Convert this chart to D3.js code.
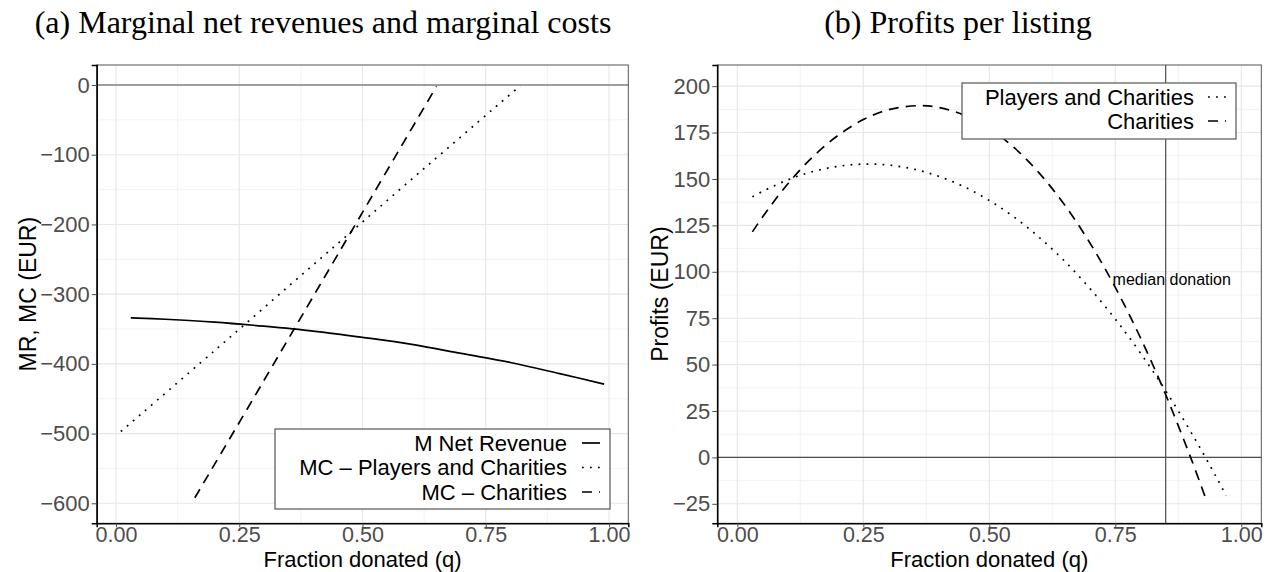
<!DOCTYPE html>
<html><head><meta charset="utf-8">
<script src="https://cdn.jsdelivr.net/npm/d3@7"></script>
<style>body{margin:0;background:#fff}svg{display:block}</style>
</head><body>
<svg id="c" width="1267" height="572"></svg>
<script>
// ---------- data ----------
const titleA = "(a) Marginal net revenues and marginal costs";
const titleB = "(b) Profits per listing";
const xTickValues = [0, 0.25, 0.5, 0.75, 1.0];
const yTicksA = [0, -100, -200, -300, -400, -500, -600];
const yTicksB = [200, 175, 150, 125, 100, 75, 50, 25, 0, -25];

// Panel (a)
const qMR = [0.03, 0.10, 0.20, 0.30, 0.40, 0.50, 0.60, 0.70, 0.80, 0.90, 0.99];
const mrNet = [-334, -336, -340, -346, -353, -362, -372, -385, -398, -414, -429];
const qMCPC = [0.01, 0.20, 0.40, 0.60, 0.82];
const mcPlayersCharities = [-497, -381, -258, -135, -1];
const qMCC = [0.16, 0.30, 0.45, 0.65];
const mcCharities = [-592, -424, -243, -2];
const legendA = ["M Net Revenue", "MC \u2013 Players and Charities", "MC \u2013 Charities"];

// Panel (b)
const qPC = [0.03,0.05,0.10,0.15,0.20,0.25,0.30,0.35,0.40,0.45,0.50,0.55,0.60,0.65,0.70,0.75,0.80,0.85,0.90,0.95,0.97];
const profitPC = [140.4,143.3,149.5,154.0,156.8,158.0,157.5,155.3,151.4,145.8,138.4,129.3,118.3,105.6,90.9,74.5,56.2,35.9,13.7,-10.4,-20.6];
const qC = [0.03,0.05,0.10,0.15,0.20,0.25,0.30,0.36,0.40,0.45,0.50,0.55,0.60,0.65,0.70,0.75,0.80,0.85,0.90,0.93];
const profitC = [121.5,129.5,147.3,162.0,173.5,182.0,187.3,189.5,188.5,184.4,177.2,166.7,152.9,135.8,115.4,91.6,64.4,33.8,-0.4,-22.5];
const legendB = ["Players and Charities", "Charities"];
const medianDonation = 0.85;
const medianLabel = "median donation";
const medianLabelPos = [0.862, 96];

// ---------- drawing ----------
const svg = d3.select("#c");
const SANS = "'Liberation Sans', Arial, Helvetica, sans-serif";
const styles = {
  solid: null,
  dotted: "1.8,6.2",
  dashed: "10,7"
};

function fmtY(d){ return d < 0 ? "\u2212" + Math.abs(d) : String(d); }

function drawPanel(o) {
  const g = svg.append("g");
  const x = d3.scaleLinear().domain(o.xDomain).range([o.left, o.right]);
  const y = d3.scaleLinear().domain(o.yDomain).range([o.bottom, o.top]);

  // grid (minor then major)
  const xMinor = [0.125, 0.375, 0.625, 0.875];
  const yStep = o.yTicks[0] - o.yTicks[1];
  const yMinor = o.yTicks.map(d => d - yStep / 2).concat([o.yTicks[0] + yStep/2])
      .filter(d => d > o.yDomain[0] && d < o.yDomain[1]);
  g.selectAll(".gxm").data(xMinor).join("line")
    .attr("x1", d => x(d)).attr("x2", d => x(d)).attr("y1", o.top).attr("y2", o.bottom)
    .attr("stroke", "#F0F0F0").attr("stroke-width", 0.8);
  g.selectAll(".gym").data(yMinor).join("line")
    .attr("y1", d => y(d)).attr("y2", d => y(d)).attr("x1", o.left).attr("x2", o.right)
    .attr("stroke", "#F0F0F0").attr("stroke-width", 0.8);
  g.selectAll(".gx").data(xTickValues).join("line")
    .attr("x1", d => x(d)).attr("x2", d => x(d)).attr("y1", o.top).attr("y2", o.bottom)
    .attr("stroke", "#E6E6E6").attr("stroke-width", 1.1);
  g.selectAll(".gy").data(o.yTicks).join("line")
    .attr("y1", d => y(d)).attr("y2", d => y(d)).attr("x1", o.left).attr("x2", o.right)
    .attr("stroke", "#E6E6E6").attr("stroke-width", 1.1);

  // reference lines
  g.append("line").attr("x1", o.left).attr("x2", o.right).attr("y1", y(0)).attr("y2", y(0))
    .attr("stroke", "#4D4D4D").attr("stroke-width", 1.2);
  if (o.vline != null) {
    g.append("line").attr("x1", x(o.vline)).attr("x2", x(o.vline)).attr("y1", o.top).attr("y2", o.bottom)
      .attr("stroke", "#4D4D4D").attr("stroke-width", 1.2);
  }

  // series
  const line = d3.line().x(d => x(d[0])).y(d => y(d[1])).curve(d3.curveCatmullRom.alpha(0.5));
  o.series.forEach(s => {
    g.append("path").datum(d3.zip(s.q, s.v)).attr("d", line)
      .attr("fill", "none").attr("stroke", "#000").attr("stroke-width", 1.7)
      .attr("stroke-dasharray", styles[s.type]);
  });

  if (o.annot) {
    g.append("text").attr("x", x(o.annot.pos[0])).attr("y", y(o.annot.pos[1]))
      .attr("text-anchor", "middle").attr("dominant-baseline", "central")
      .attr("font-family", SANS).attr("font-size", 16).attr("fill", "#000").text(o.annot.text);
  }

  // frame
  g.append("rect").attr("x", o.left).attr("y", o.top).attr("width", o.right - o.left).attr("height", o.bottom - o.top)
    .attr("fill", "none").attr("stroke", "#555").attr("stroke-width", 1);

  // axes
  const ax = g.append("g").attr("transform", `translate(0,${o.bottom})`)
    .call(d3.axisBottom(x).tickValues(xTickValues).tickFormat(d3.format(".2f")).tickSize(4).tickPadding(1));
  const ay = g.append("g").attr("transform", `translate(${o.left},0)`)
    .call(d3.axisLeft(y).tickValues(o.yTicks).tickFormat(fmtY).tickSize(5).tickPadding(2));
  [ax, ay].forEach(a => {
    a.select(".domain").attr("stroke", "#000").attr("stroke-width", 1.5);
    a.selectAll(".tick line").attr("stroke", "#4D4D4D").attr("stroke-width", 1);
    a.selectAll(".tick text").attr("fill", "#4D4D4D").attr("font-size", 22).attr("font-family", SANS);
  });
  ax.selectAll(".tick text").attr("font-size", 21.5).attr("dy", "0.66em");

  // axis titles
  g.append("text").attr("x", (o.left + o.right) / 2).attr("y", 567.4).attr("text-anchor", "middle")
    .attr("font-family", SANS).attr("font-size", 22).attr("fill", "#000").text("Fraction donated (q)");
  g.append("text").attr("transform", `translate(${o.yTitleX},${(o.top + o.bottom) / 2}) rotate(-90)`)
    .attr("text-anchor", "middle").attr("dominant-baseline", "central")
    .attr("font-family", SANS).attr("font-size", 23).attr("fill", "#000").text(o.yTitle);

  // legend
  const L = o.legend;
  const lg = g.append("g");
  lg.append("rect").attr("x", L.x0).attr("y", L.y0).attr("width", L.x1 - L.x0).attr("height", L.y1 - L.y0)
    .attr("fill", "#fff").attr("stroke", "#555").attr("stroke-width", 1.2);
  const rows = lg.selectAll("g.row").data(L.items).join("g").attr("class", "row")
    .attr("transform", (d, i) => `translate(0,${L.rowY0 + i * L.rowStep})`);
  rows.append("text").attr("x", L.textRight).attr("y", 0).attr("text-anchor", "end")
    .attr("dominant-baseline", "central").attr("font-family", SANS).attr("font-size", 22)
    .attr("fill", "#000").text(d => d.label);
  rows.append("line").attr("x1", L.keyX).attr("x2", L.keyX + 18).attr("y1", 0).attr("y2", 0)
    .attr("stroke", "#000").attr("stroke-width", 1.7).attr("stroke-dasharray", d => styles[d.type]);
}

drawPanel({
  left: 96.7, right: 628.3, top: 65, bottom: 523.3,
  xDomain: [-0.0391, 1.0391], yDomain: [-628.7, 28.7],
  yTicks: yTicksA, yTitle: "MR, MC (EUR)", yTitleX: 28,
  series: [
    {q: qMR, v: mrNet, type: "solid"},
    {q: qMCPC, v: mcPlayersCharities, type: "dotted"},
    {q: qMCC, v: mcCharities, type: "dashed"}
  ],
  legend: {x0: 275, x1: 610, y0: 429, y1: 509, rowY0: 443, rowStep: 24.5, textRight: 567, keyX: 582,
    items: [{label: legendA[0], type: "solid"}, {label: legendA[1], type: "dotted"}, {label: legendA[2], type: "dashed"}]}
});

drawPanel({
  left: 717.3, right: 1261.3, top: 65, bottom: 523.3,
  xDomain: [-0.0397, 1.0397], yDomain: [-35.5, 211.4],
  yTicks: yTicksB, yTitle: "Profits (EUR)", yTitleX: 660,
  vline: medianDonation,
  annot: {pos: medianLabelPos, text: medianLabel},
  series: [
    {q: qPC, v: profitPC, type: "dotted"},
    {q: qC, v: profitC, type: "dashed"}
  ],
  legend: {x0: 962, x1: 1236, y0: 83, y1: 139, rowY0: 97, rowStep: 24, textRight: 1194, keyX: 1208,
    items: [{label: legendB[0], type: "dotted"}, {label: legendB[1], type: "dashed"}]}
});

// titles
const SERIF = "'Liberation Serif', 'DejaVu Serif', serif";
const tA = svg.append("text").attr("x", 323).attr("y", 33).attr("text-anchor", "middle")
  .attr("font-family", SERIF).attr("font-size", 28).attr("fill", "#000").text(titleA);
const wA = tA.node().getComputedTextLength();
const fs = 28 * 577 / wA;
tA.attr("font-size", fs);
svg.append("text").attr("x", 958).attr("y", 33).attr("text-anchor", "middle")
  .attr("font-family", SERIF).attr("font-size", fs).attr("fill", "#000").text(titleB);
</script>
</body></html>
